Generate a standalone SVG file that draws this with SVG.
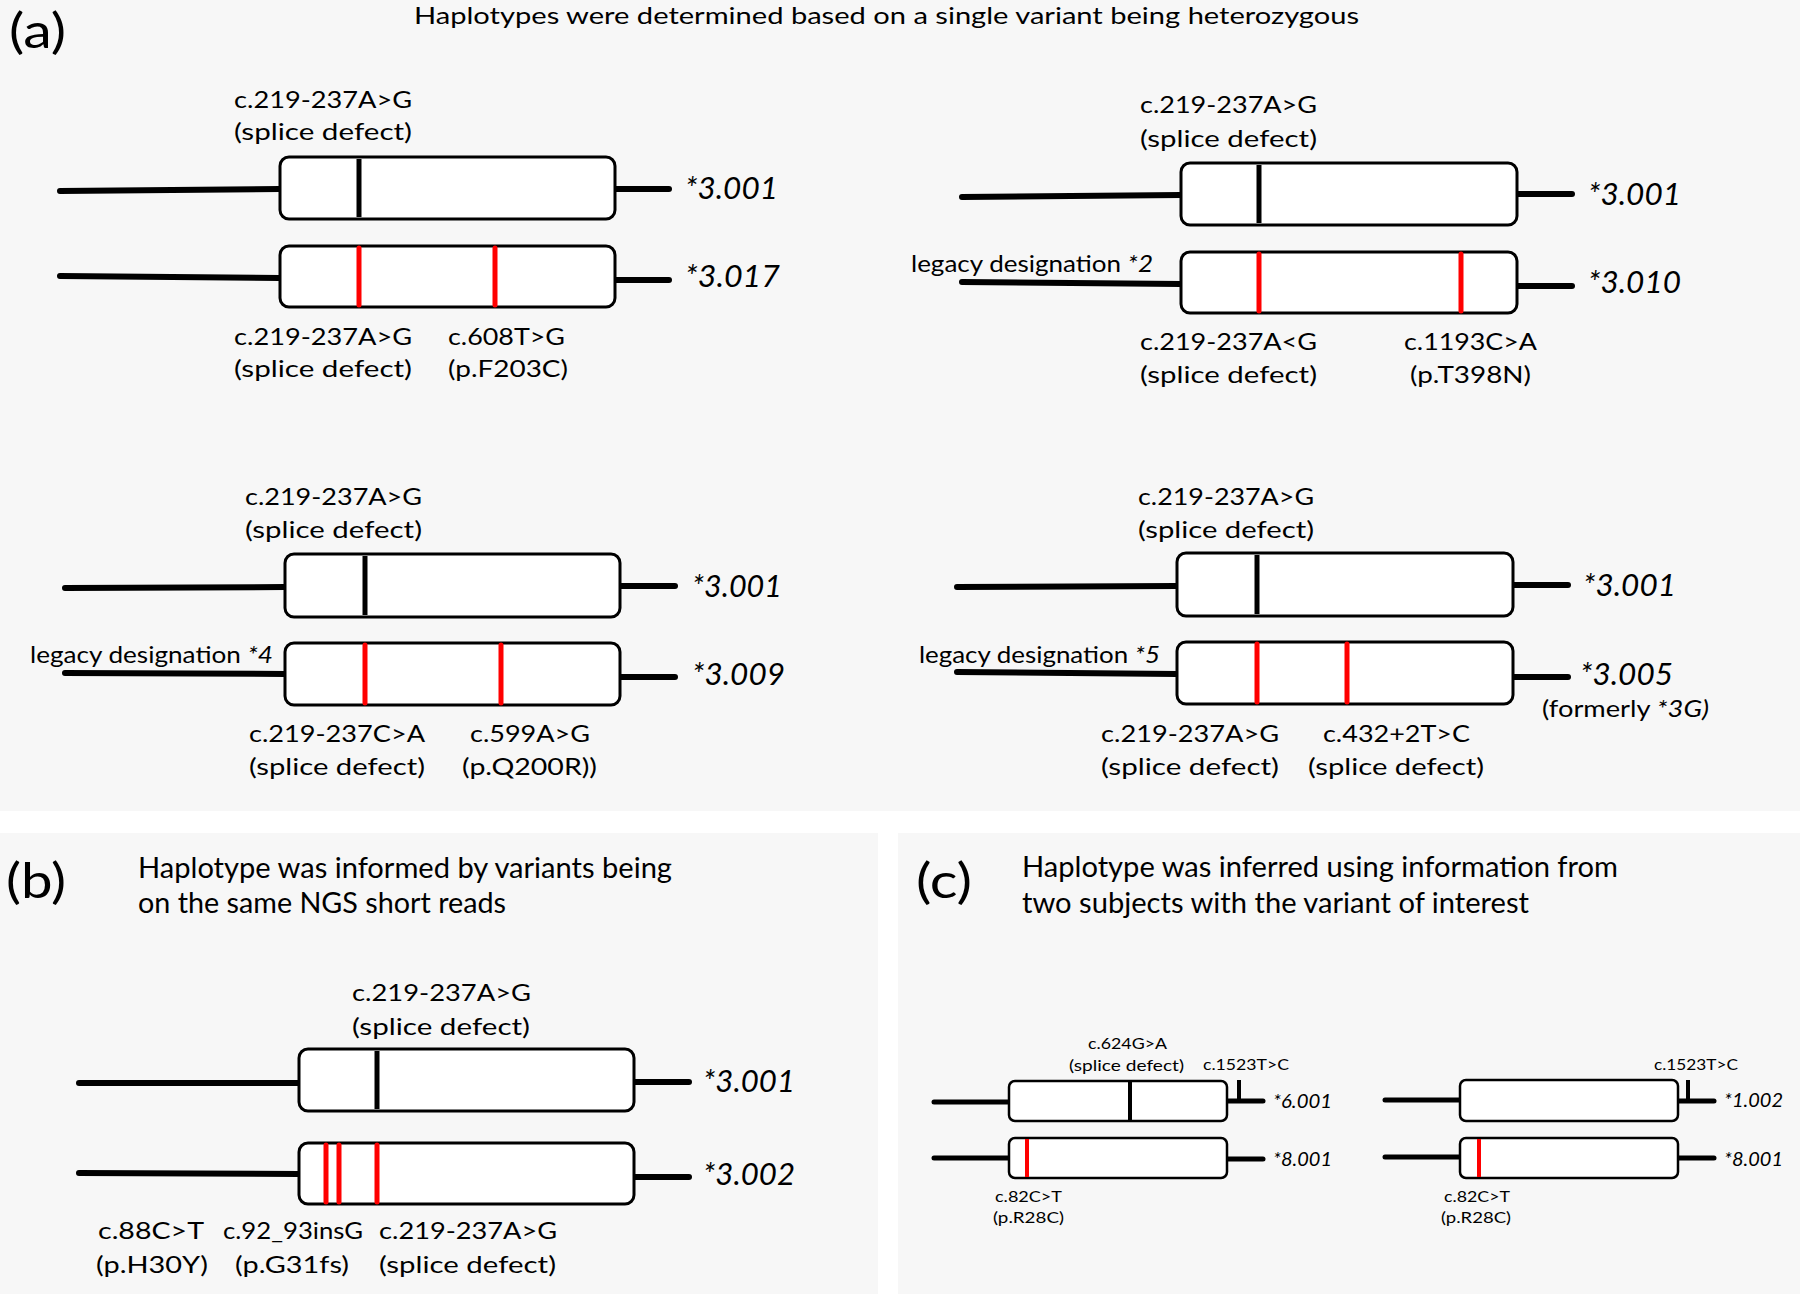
<svg xmlns="http://www.w3.org/2000/svg" width="1800" height="1294" viewBox="0 0 1800 1294">
<style>
.bg{fill:#f7f7f7}
.box{fill:#fff;stroke:#000;stroke-width:3}
.bxs{fill:#fff;stroke:#000;stroke-width:2.5}
.ln{stroke:#000;stroke-width:6;stroke-linecap:round;fill:none}
.lns{stroke:#000;stroke-width:5;stroke-linecap:round;fill:none}
.mk{stroke:#000;stroke-width:5}
.mr{stroke:#f00;stroke-width:5;stroke-linecap:round}
.mks{stroke:#000;stroke-width:4}
.mrs{stroke:#f00;stroke-width:4}
text{font-family:Lato,"Open Sans","Liberation Sans",sans-serif;fill:#000}
.lab{font-size:23.5px}
.leg{font-size:23px}
.star{font-size:30px;font-style:italic}
.hd{font-size:28px}
.ttl{font-size:24px}
.pl{font-size:48px}
.sl{font-size:16px}
.ss{font-size:20px;font-style:italic}
.it{font-style:italic}
</style>
<rect class="bg" x="0" y="0" width="1800" height="811"/>
<rect class="bg" x="0" y="833" width="878" height="461"/>
<rect class="bg" x="898" y="833" width="902" height="461"/>

<g id="panel-a-title">
<text class="pl" x="9" y="48" textLength="57" lengthAdjust="spacingAndGlyphs">(a)</text>
<text class="ttl" x="414" y="24" textLength="945" lengthAdjust="spacingAndGlyphs">Haplotypes were determined based on a single variant being heterozygous</text>
</g>

<g id="a1">
<text class="lab" x="234" y="108" textLength="178" lengthAdjust="spacingAndGlyphs">c.219-237A&gt;G</text>
<text class="lab" x="234" y="140" textLength="178" lengthAdjust="spacingAndGlyphs">(splice defect)</text>
<line class="ln" x1="60" y1="191" x2="280" y2="189"/>
<line class="ln" x1="615" y1="189" x2="669" y2="189"/>
<rect class="box" x="280" y="157" width="335" height="62" rx="9"/>
<line class="mk" x1="359" y1="159" x2="359" y2="217"/>
<text class="star" x="685" y="199" textLength="93" lengthAdjust="spacingAndGlyphs">*3.001</text>
<line class="ln" x1="60" y1="276" x2="280" y2="278"/>
<line class="ln" x1="615" y1="280" x2="669" y2="280"/>
<rect class="box" x="280" y="246" width="335" height="61" rx="9"/>
<line class="mr" x1="359" y1="248" x2="359" y2="305"/>
<line class="mr" x1="495" y1="248" x2="495" y2="305"/>
<text class="star" x="685" y="287" textLength="95" lengthAdjust="spacingAndGlyphs">*3.017</text>
<text class="lab" x="234" y="345" textLength="178" lengthAdjust="spacingAndGlyphs">c.219-237A&gt;G</text>
<text class="lab" x="234" y="377" textLength="178" lengthAdjust="spacingAndGlyphs">(splice defect)</text>
<text class="lab" x="448" y="345" textLength="117" lengthAdjust="spacingAndGlyphs">c.608T&gt;G</text>
<text class="lab" x="448" y="377" textLength="120" lengthAdjust="spacingAndGlyphs">(p.F203C)</text>
</g>

<g id="a2">
<text class="lab" x="1140" y="113" textLength="177" lengthAdjust="spacingAndGlyphs">c.219-237A&gt;G</text>
<text class="lab" x="1140" y="147" textLength="177" lengthAdjust="spacingAndGlyphs">(splice defect)</text>
<line class="ln" x1="962" y1="197" x2="1181" y2="195"/>
<line class="ln" x1="1517" y1="194" x2="1572" y2="194"/>
<rect class="box" x="1181" y="163" width="336" height="62" rx="9"/>
<line class="mk" x1="1259" y1="165" x2="1259" y2="223"/>
<text class="star" x="1588" y="205" textLength="93" lengthAdjust="spacingAndGlyphs">*3.001</text>
<text class="leg" x="911" y="272" textLength="242" lengthAdjust="spacingAndGlyphs">legacy designation <tspan class="it">*2</tspan></text>
<line class="ln" x1="962" y1="282" x2="1181" y2="284"/>
<line class="ln" x1="1517" y1="286" x2="1572" y2="286"/>
<rect class="box" x="1181" y="252" width="336" height="61" rx="9"/>
<line class="mr" x1="1259" y1="254" x2="1259" y2="311"/>
<line class="mr" x1="1461" y1="254" x2="1461" y2="311"/>
<text class="star" x="1588" y="293" textLength="93" lengthAdjust="spacingAndGlyphs">*3.010</text>
<text class="lab" x="1140" y="350" textLength="177" lengthAdjust="spacingAndGlyphs">c.219-237A&lt;G</text>
<text class="lab" x="1140" y="383" textLength="177" lengthAdjust="spacingAndGlyphs">(splice defect)</text>
<text class="lab" x="1404" y="350" textLength="133" lengthAdjust="spacingAndGlyphs">c.1193C&gt;A</text>
<text class="lab" x="1410" y="383" textLength="121" lengthAdjust="spacingAndGlyphs">(p.T398N)</text>
</g>

<g id="a3">
<text class="lab" x="245" y="505" textLength="177" lengthAdjust="spacingAndGlyphs">c.219-237A&gt;G</text>
<text class="lab" x="245" y="538" textLength="177" lengthAdjust="spacingAndGlyphs">(splice defect)</text>
<line class="ln" x1="65" y1="588" x2="285" y2="587"/>
<line class="ln" x1="620" y1="586" x2="675" y2="586"/>
<rect class="box" x="285" y="554" width="335" height="63" rx="9"/>
<line class="mk" x1="365" y1="556" x2="365" y2="615"/>
<text class="star" x="692" y="597" textLength="90" lengthAdjust="spacingAndGlyphs">*3.001</text>
<text class="leg" x="30" y="663" textLength="243" lengthAdjust="spacingAndGlyphs">legacy designation <tspan class="it">*4</tspan></text>
<line class="ln" x1="65" y1="673" x2="285" y2="674"/>
<line class="ln" x1="620" y1="677" x2="675" y2="677"/>
<rect class="box" x="285" y="643" width="335" height="62" rx="9"/>
<line class="mr" x1="365" y1="645" x2="365" y2="703"/>
<line class="mr" x1="501" y1="645" x2="501" y2="703"/>
<text class="star" x="692" y="685" textLength="93" lengthAdjust="spacingAndGlyphs">*3.009</text>
<text class="lab" x="249" y="742" textLength="176" lengthAdjust="spacingAndGlyphs">c.219-237C&gt;A</text>
<text class="lab" x="249" y="775" textLength="176" lengthAdjust="spacingAndGlyphs">(splice defect)</text>
<text class="lab" x="470" y="742" textLength="120" lengthAdjust="spacingAndGlyphs">c.599A&gt;G</text>
<text class="lab" x="462" y="775" textLength="135" lengthAdjust="spacingAndGlyphs">(p.Q200R))</text>
</g>

<g id="a4">
<text class="lab" x="1138" y="505" textLength="176" lengthAdjust="spacingAndGlyphs">c.219-237A&gt;G</text>
<text class="lab" x="1138" y="538" textLength="176" lengthAdjust="spacingAndGlyphs">(splice defect)</text>
<line class="ln" x1="957" y1="587" x2="1177" y2="586"/>
<line class="ln" x1="1513" y1="585" x2="1568" y2="585"/>
<rect class="box" x="1177" y="553" width="336" height="63" rx="9"/>
<line class="mk" x1="1257" y1="555" x2="1257" y2="614"/>
<text class="star" x="1583" y="596" textLength="93" lengthAdjust="spacingAndGlyphs">*3.001</text>
<text class="leg" x="919" y="663" textLength="241" lengthAdjust="spacingAndGlyphs">legacy designation <tspan class="it">*5</tspan></text>
<line class="ln" x1="957" y1="672" x2="1177" y2="674"/>
<line class="ln" x1="1513" y1="677" x2="1568" y2="677"/>
<rect class="box" x="1177" y="642" width="336" height="62" rx="9"/>
<line class="mr" x1="1257" y1="644" x2="1257" y2="702"/>
<line class="mr" x1="1347" y1="644" x2="1347" y2="702"/>
<text class="star" x="1580" y="685" textLength="93" lengthAdjust="spacingAndGlyphs">*3.005</text>
<text class="lab" x="1542" y="717" textLength="167" lengthAdjust="spacingAndGlyphs">(formerly <tspan class="it">*3G)</tspan></text>
<text class="lab" x="1101" y="742" textLength="178" lengthAdjust="spacingAndGlyphs">c.219-237A&gt;G</text>
<text class="lab" x="1101" y="775" textLength="178" lengthAdjust="spacingAndGlyphs">(splice defect)</text>
<text class="lab" x="1323" y="742" textLength="147" lengthAdjust="spacingAndGlyphs">c.432+2T&gt;C</text>
<text class="lab" x="1308" y="775" textLength="176" lengthAdjust="spacingAndGlyphs">(splice defect)</text>
</g>

<g id="panel-b-title">
<text class="pl" x="6" y="898" textLength="60" lengthAdjust="spacingAndGlyphs">(b)</text>
<text class="hd" x="138" y="878" textLength="534" lengthAdjust="spacingAndGlyphs">Haplotype was informed by variants being</text>
<text class="hd" x="138" y="913" textLength="368" lengthAdjust="spacingAndGlyphs">on the same NGS short reads</text>
</g>

<g id="b1">
<text class="lab" x="352" y="1001" textLength="179" lengthAdjust="spacingAndGlyphs">c.219-237A&gt;G</text>
<text class="lab" x="352" y="1035" textLength="178" lengthAdjust="spacingAndGlyphs">(splice defect)</text>
<line class="ln" x1="79" y1="1083" x2="299" y2="1083"/>
<line class="ln" x1="634" y1="1082" x2="689" y2="1082"/>
<rect class="box" x="299" y="1049" width="335" height="62" rx="9"/>
<line class="mk" x1="377" y1="1051" x2="377" y2="1109"/>
<text class="star" x="703" y="1092" textLength="92" lengthAdjust="spacingAndGlyphs">*3.001</text>
<line class="ln" x1="79" y1="1173" x2="299" y2="1174"/>
<line class="ln" x1="634" y1="1177" x2="689" y2="1177"/>
<rect class="box" x="299" y="1143" width="335" height="61" rx="9"/>
<line class="mr" x1="326" y1="1145" x2="326" y2="1202"/>
<line class="mr" x1="339" y1="1145" x2="339" y2="1202"/>
<line class="mr" x1="377" y1="1145" x2="377" y2="1202"/>
<text class="star" x="703" y="1185" textLength="92" lengthAdjust="spacingAndGlyphs">*3.002</text>
<text class="lab" x="98" y="1239" textLength="106" lengthAdjust="spacingAndGlyphs">c.88C&gt;T</text>
<text class="lab" x="96" y="1273" textLength="112" lengthAdjust="spacingAndGlyphs">(p.H30Y)</text>
<text class="lab" x="223" y="1239" textLength="140" lengthAdjust="spacingAndGlyphs">c.92_93insG</text>
<text class="lab" x="235" y="1273" textLength="114" lengthAdjust="spacingAndGlyphs">(p.G31fs)</text>
<text class="lab" x="379" y="1239" textLength="178" lengthAdjust="spacingAndGlyphs">c.219-237A&gt;G</text>
<text class="lab" x="379" y="1273" textLength="177" lengthAdjust="spacingAndGlyphs">(splice defect)</text>
</g>

<g id="panel-c-title">
<text class="pl" x="916" y="898" textLength="56" lengthAdjust="spacingAndGlyphs">(c)</text>
<text class="hd" x="1022" y="877" textLength="596" lengthAdjust="spacingAndGlyphs">Haplotype was inferred using information from</text>
<text class="hd" x="1022" y="913" textLength="507" lengthAdjust="spacingAndGlyphs">two subjects with the variant of interest</text>
</g>

<g id="c1">
<text class="sl" x="1088" y="1049" textLength="79" lengthAdjust="spacingAndGlyphs">c.624G&gt;A</text>
<text class="sl" x="1069" y="1071" textLength="115" lengthAdjust="spacingAndGlyphs">(splice defect)</text>
<text class="sl" x="1203" y="1070" textLength="86" lengthAdjust="spacingAndGlyphs">c.1523T&gt;C</text>
<line class="lns" x1="934" y1="1102" x2="1009" y2="1102"/>
<line class="lns" x1="1227" y1="1101" x2="1263" y2="1101"/>
<line class="mks" x1="1239" y1="1080" x2="1239" y2="1101"/>
<rect class="bxs" x="1009" y="1081" width="218" height="40" rx="6"/>
<line class="mks" x1="1130" y1="1082" x2="1130" y2="1120"/>
<text class="ss" x="1273" y="1108" textLength="59" lengthAdjust="spacingAndGlyphs">*6.001</text>
<line class="lns" x1="934" y1="1158" x2="1009" y2="1158"/>
<line class="lns" x1="1227" y1="1159" x2="1263" y2="1159"/>
<rect class="bxs" x="1009" y="1138" width="218" height="40" rx="6"/>
<line class="mrs" x1="1027" y1="1139" x2="1027" y2="1177"/>
<text class="ss" x="1273" y="1166" textLength="59" lengthAdjust="spacingAndGlyphs">*8.001</text>
<text class="sl" x="995" y="1202" textLength="67" lengthAdjust="spacingAndGlyphs">c.82C&gt;T</text>
<text class="sl" x="993" y="1223" textLength="71" lengthAdjust="spacingAndGlyphs">(p.R28C)</text>
</g>

<g id="c2">
<text class="sl" x="1654" y="1070" textLength="84" lengthAdjust="spacingAndGlyphs">c.1523T&gt;C</text>
<line class="lns" x1="1385" y1="1100" x2="1460" y2="1100"/>
<line class="lns" x1="1678" y1="1101" x2="1714" y2="1101"/>
<line class="mks" x1="1688" y1="1080" x2="1688" y2="1101"/>
<rect class="bxs" x="1460" y="1080" width="218" height="41" rx="6"/>
<text class="ss" x="1724" y="1107" textLength="59" lengthAdjust="spacingAndGlyphs">*1.002</text>
<line class="lns" x1="1385" y1="1157" x2="1460" y2="1157"/>
<line class="lns" x1="1678" y1="1158" x2="1714" y2="1158"/>
<rect class="bxs" x="1460" y="1138" width="218" height="40" rx="6"/>
<line class="mrs" x1="1479" y1="1139" x2="1479" y2="1177"/>
<text class="ss" x="1724" y="1166" textLength="59" lengthAdjust="spacingAndGlyphs">*8.001</text>
<text class="sl" x="1444" y="1202" textLength="66" lengthAdjust="spacingAndGlyphs">c.82C&gt;T</text>
<text class="sl" x="1441" y="1223" textLength="70" lengthAdjust="spacingAndGlyphs">(p.R28C)</text>
</g>
</svg>
